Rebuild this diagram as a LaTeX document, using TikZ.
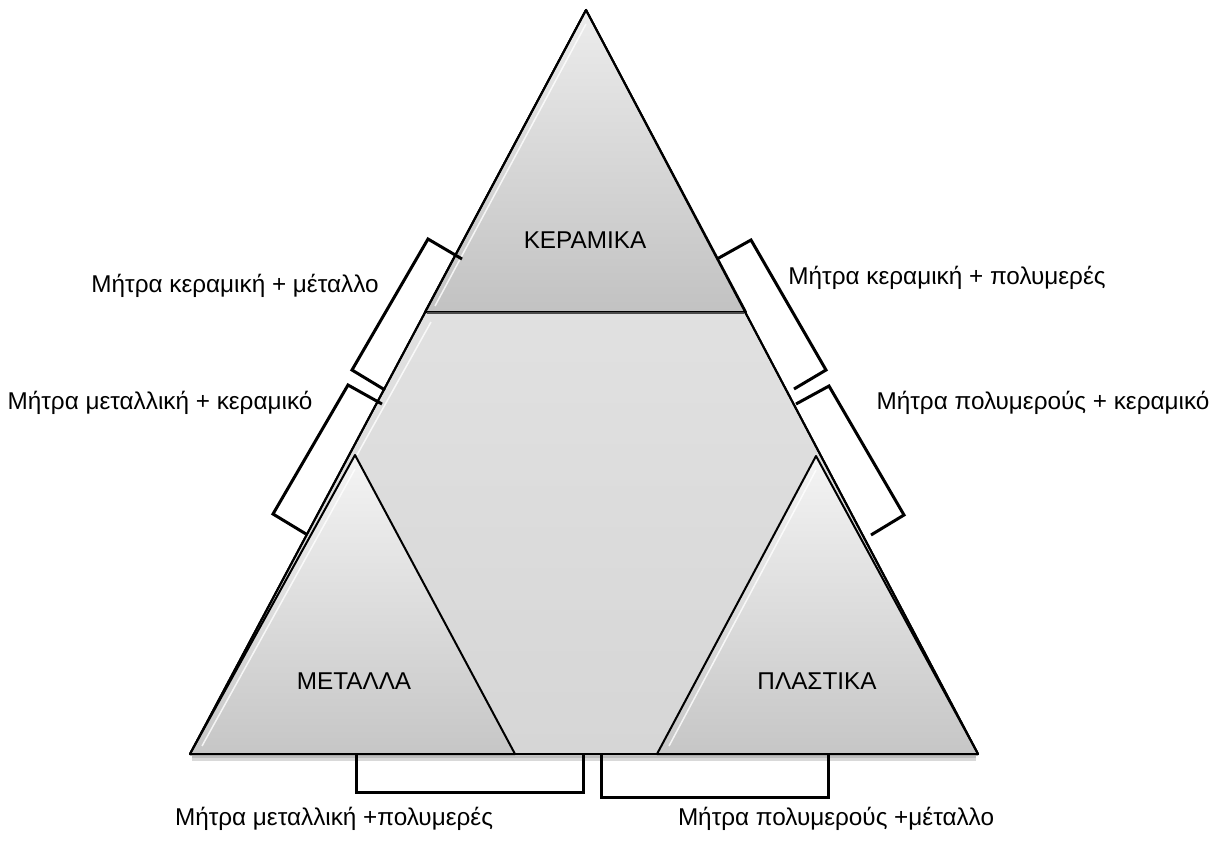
\documentclass[tikz,border=0pt]{standalone}
\usepackage{fontspec}
\setmainfont{Liberation Sans}
\usetikzlibrary{calc}
\definecolor{midA}{RGB}{232,232,232}
\definecolor{midB}{RGB}{214,214,214}
\definecolor{topA}{RGB}{236,236,236}
\definecolor{topB}{RGB}{194,194,194}
\definecolor{corA}{RGB}{244,244,244}
\definecolor{corB}{RGB}{198,198,198}
\tikzset{
  piece/.style={draw=black, line width=2pt, line join=round},
  bracket/.style={draw=black, line width=3pt, line join=miter},
  lbl/.style={font=\fontsize{24.3}{28}\selectfont, text=black, inner sep=0pt},
}
\begin{document}
\begin{tikzpicture}[x=1pt,y=-1pt]
\useasboundingbox[fill=white] (0,0) rectangle (1218,848);
% key points
\coordinate (apex) at (586,10);
\coordinate (bl) at (190,754);
\coordinate (br) at (978,754);
\coordinate (tl) at (425,312);
\coordinate (tr) at (746,312);
\coordinate (lapex) at (355,455);
\coordinate (lbr) at (515,754);
\coordinate (rapex) at (816,456);
\coordinate (rbl) at (657,754);
% shadow under base
\fill[gray!30] (192,756) rectangle (976,761);
\fill[gray!50] (192,756) rectangle (976,758);
% outer triangle (middle region)
\path[piece, top color=midA, bottom color=midB] (apex) -- (br) -- (bl) -- cycle;
% top triangle
\path[piece, top color=topA, bottom color=topB] (apex) -- (tr) -- (tl) -- cycle;
\draw[black!70, line width=2.5pt] ($(tl)+(2,1)$) -- ($(tr)+(-2,1)$);
% corner triangles
\path[piece, top color=corA, bottom color=corB] (lapex) -- (lbr) -- (bl) -- cycle;
\path[piece, top color=corA, bottom color=corB] (rapex) -- (br) -- (rbl) -- cycle;
% outer outline again
\draw[piece] (apex) -- (br) -- (bl) -- cycle;
% bevel highlights
\draw[white, line width=1.5pt, opacity=0.8] ($(apex)+(0,14)$) -- ($(tl)+(10,-6)$);
\draw[white, line width=1.5pt, opacity=0.8] ($(lapex)+(0,14)$) -- ($(bl)+(12,-8)$);
\draw[white, line width=1.5pt, opacity=0.8] ($(rapex)+(0,14)$) -- ($(rbl)+(12,-8)$);
\draw[white, line width=1.5pt, opacity=0.8] ($(tl)+(6,10)$) -- ($(lapex)+(2,0)$);
% labels inside
\node[lbl] (ker) at (585,240) {ΚΕΡΑΜΙΚΑ};
\node[lbl] (met) at (354,681) {ΜΕΤΑΛΛΑ};
\node[lbl] (pla) at (817,681) {ΠΛΑΣΤΙΚΑ};
% brackets
\draw[bracket] (462,259) -- (428,239) -- (352,370) -- (385,390);
\draw[bracket] (382,404) -- (348,385) -- (273,514) -- (306,534);
\draw[bracket] (717,259) -- (751,240) -- (826,370) -- (794,389);
\draw[bracket] (796,404) -- (829,386) -- (904,515) -- (871,535);
\draw[bracket] (356,754) -- (356,792) -- (583,792) -- (583,754);
\draw[bracket] (601,754) -- (601,797) -- (828,797) -- (828,754);
% labels outside
\node[lbl, anchor=base] (l1) at (235,292) {Μήτρα κεραμική + μέταλλο};
\node[lbl, anchor=base] (l2) at (947,284) {Μήτρα κεραμική + πολυμερές};
\node[lbl, anchor=base] (l3) at (160,409) {Μήτρα μεταλλική + κεραμικό};
\node[lbl, anchor=base] (l4) at (1043,409) {Μήτρα πολυμερούς + κεραμικό};
\node[lbl, anchor=base] (l5) at (334,825) {Μήτρα μεταλλική +πολυμερές};
\node[lbl, anchor=base] (l6) at (836,825) {Μήτρα πολυμερούς +μέταλλο};
\end{tikzpicture}
\end{document}
